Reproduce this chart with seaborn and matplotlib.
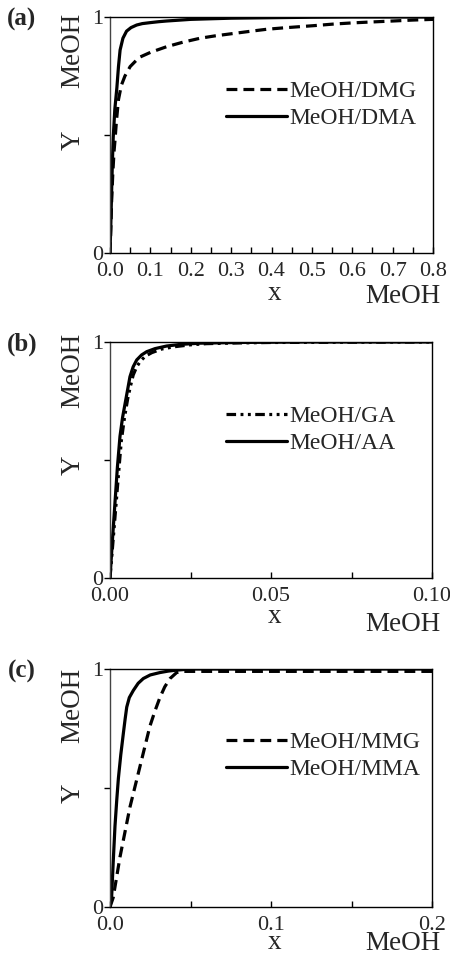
import numpy as np
import pandas as pd
import matplotlib
matplotlib.use("Agg")
import matplotlib.pyplot as plt
import seaborn as sns
from matplotlib.ticker import MultipleLocator

sns.set_theme(style="white")
plt.rcParams['font.family'] = ['Liberation Serif', 'DejaVu Serif']

# ---------------- data ----------------
# panel (a)
a_dmg_x = [0.0, 0.002, 0.004, 0.007, 0.010, 0.012, 0.016, 0.021, 0.028, 0.037, 0.050, 0.066, 0.074,
           0.10, 0.14, 0.18, 0.223, 0.26, 0.305, 0.35, 0.388, 0.43, 0.47, 0.51, 0.553, 0.60, 0.636, 0.70, 0.75, 0.80]
a_dmg_y = [0.0, 0.10, 0.22, 0.34, 0.43, 0.47, 0.56, 0.65, 0.71, 0.75, 0.79, 0.818, 0.83,
           0.85, 0.874, 0.893, 0.91, 0.92, 0.93, 0.94, 0.948, 0.954, 0.959, 0.964, 0.970, 0.975, 0.978, 0.983, 0.987, 0.99]
a_dma_x = [0.0, 0.002, 0.004, 0.006, 0.008, 0.012, 0.017, 0.021, 0.025, 0.032, 0.041, 0.052, 0.066,
           0.080, 0.099, 0.12, 0.14, 0.20, 0.30, 0.40, 0.50, 0.60, 0.80]
a_dma_y = [0.0, 0.12, 0.26, 0.39, 0.49, 0.61, 0.70, 0.79, 0.86, 0.91, 0.94, 0.955, 0.966,
           0.972, 0.976, 0.980, 0.983, 0.990, 0.995, 0.997, 0.999, 1.0, 1.0]
# panel (b)
b_ga_x = [0.0, 0.0009, 0.0018, 0.0027, 0.0035, 0.0045, 0.0055, 0.0063, 0.0072, 0.0083, 0.0095,
          0.011, 0.013, 0.016, 0.020, 0.025, 0.030, 0.040, 0.050, 0.070, 0.100]
b_ga_y = [0.0, 0.15, 0.30, 0.45, 0.58, 0.68, 0.76, 0.81, 0.86, 0.895, 0.92,
          0.94, 0.955, 0.97, 0.98, 0.988, 0.993, 0.996, 0.998, 0.999, 1.0]
b_aa_x = [0.0, 0.0008, 0.00155, 0.0023, 0.0031, 0.0039, 0.0047, 0.0055, 0.0062, 0.0072, 0.0083,
          0.0098, 0.0114, 0.014, 0.0176, 0.022, 0.028, 0.040, 0.060, 0.100]
b_aa_y = [0.0, 0.17, 0.32, 0.47, 0.60, 0.68, 0.74, 0.80, 0.853, 0.895, 0.924,
          0.945, 0.959, 0.972, 0.983, 0.990, 0.995, 0.998, 1.0, 1.0]
# panel (c)
c_mmg_x = [0.0, 0.002, 0.0062, 0.0093, 0.0124, 0.0155, 0.0186, 0.0217, 0.0248, 0.028, 0.031,
           0.034, 0.0373, 0.0414, 0.045, 0.06, 0.10, 0.15, 0.20]
c_mmg_y = [0.0, 0.04, 0.21, 0.315, 0.42, 0.505, 0.59, 0.675, 0.76, 0.825, 0.88,
           0.925, 0.96, 0.985, 0.99, 0.99, 0.99, 0.99, 0.99]
c_mma_x = [0.0, 0.001, 0.002, 0.0031, 0.0042, 0.0052, 0.0067, 0.0083, 0.0094, 0.0104, 0.012,
           0.0145, 0.0175, 0.0207, 0.025, 0.031, 0.036, 0.041, 0.05, 0.10, 0.20]
c_mma_y = [0.0, 0.04, 0.19, 0.34, 0.45, 0.54, 0.64, 0.73, 0.79, 0.84, 0.88,
           0.91, 0.94, 0.96, 0.975, 0.985, 0.991, 0.995, 1.0, 1.0, 1.0]

panel_labels = ["(a)", "(b)", "(c)"]
series_names = [["MeOH/DMG", "MeOH/DMA"], ["MeOH/GA", "MeOH/AA"], ["MeOH/MMG", "MeOH/MMA"]]
x_major = [0.1, 0.05, 0.1]
x_minor = [0.05, 0.025, 0.05]
x_max = [0.8, 0.1, 0.2]
x_fmt = ["{:.1f}", "{:.2f}", "{:.1f}"]
y_ticks = [0, 1]
y_tick_labels = ["0", "1"]

panels = [
    [(a_dmg_x, a_dmg_y), (a_dma_x, a_dma_y)],
    [(b_ga_x, b_ga_y), (b_aa_x, b_aa_y)],
    [(c_mmg_x, c_mmg_y), (c_mma_x, c_mma_y)],
]
dash_styles = [(3.4, 1.9), (3.0, 1.4, 0.9, 1.4, 0.9, 1.4), (3.4, 1.9)]

# ---------------- figure ----------------
W, H = 450, 956
fig = plt.figure(figsize=(W / 100, H / 100), dpi=100)

axes_px = [(110, 17, 433, 253), (110, 342, 432, 578), (110, 669, 432, 907)]
ylab_meoh_y = [50, 370, 705]
ylab_y_y = [140, 465, 793]
xlab_base = [300, 623, 949]
xlab_meoh_base = [303, 631, 950]
legend_y = [105, 430, 756]

for i in range(3):
    l, t, r, b = axes_px[i]
    ax = fig.add_axes([l / W, 1 - b / H, (r - l) / W, (b - t) / H])
    frames = []
    for (xs, ys), name in zip(panels[i], series_names[i]):
        frames.append(pd.DataFrame({"x": xs, "y": ys, "series": name}))
    df = pd.concat(frames, ignore_index=True)
    sns.lineplot(data=df, x="x", y="y", style="series", style_order=series_names[i],
                 dashes={series_names[i][0]: dash_styles[i], series_names[i][1]: ""},
                 color="black", linewidth=2.3, ax=ax, sort=False, estimator=None)
    ax.set_xlim(0, x_max[i])
    ax.set_ylim(0, 1)
    ax.set_xlabel("")
    ax.set_ylabel("")
    ax.xaxis.set_major_locator(MultipleLocator(x_major[i]))
    ax.xaxis.set_minor_locator(MultipleLocator(x_minor[i]))
    ticks = ax.get_xticks()
    ticks = [tk for tk in ticks if -1e-9 <= tk <= x_max[i] + 1e-9]
    ax.set_xticks(ticks)
    ax.set_xticklabels([x_fmt[i].format(tk) for tk in ticks], fontsize=16)
    ax.set_yticks(y_ticks)
    ax.set_yticklabels(y_tick_labels, fontsize=16)
    ax.set_yticks([0.5], minor=True)
    ax.tick_params(axis="both", which="both", length=4, width=1, color="black",
                   direction="out", pad=1, bottom=True, left=True)
    ax.tick_params(axis="x", which="both", direction="in")
    ax.tick_params(axis="x", which="major", pad=6.5)
    for s in ax.spines.values():
        s.set_visible(True)
        s.set_color("black")
        s.set_linewidth(1.0)
    ax.spines["left"].set_color("#444444")
    ax.grid(False)

    h, lbl = ax.get_legend_handles_labels()
    leg = ax.legend(h, lbl, loc="center left",
                    bbox_to_anchor=((226 - l) / (r - l), 1 - (legend_y[i] - t) / (b - t)),
                    frameon=False, fontsize=17, handlelength=2.6, handletextpad=0.1,
                    labelspacing=0.25, borderpad=0, borderaxespad=0)
    for ln in leg.get_lines():
        ln.set_linewidth(2.3)

    fig.text(22 / W, 1 - (axes_px[i][1] + 2) / H, panel_labels[i], fontsize=18,
             fontweight="bold", ha="center", va="center")
    fig.text(73 / W, 1 - ylab_meoh_y[i] / H, "MeOH", fontsize=19.5, rotation=90,
             ha="center", va="center")
    fig.text(73 / W, 1 - ylab_y_y[i] / H, "Y", fontsize=19.5, rotation=90,
             ha="center", va="center")
    fig.text(275 / W, 1 - xlab_base[i] / H, "x", fontsize=19.5, ha="center", va="baseline")
    fig.text(403 / W, 1 - xlab_meoh_base[i] / H, "MeOH", fontsize=19.5, ha="center", va="baseline")

fig.savefig("out.png", dpi=100)
